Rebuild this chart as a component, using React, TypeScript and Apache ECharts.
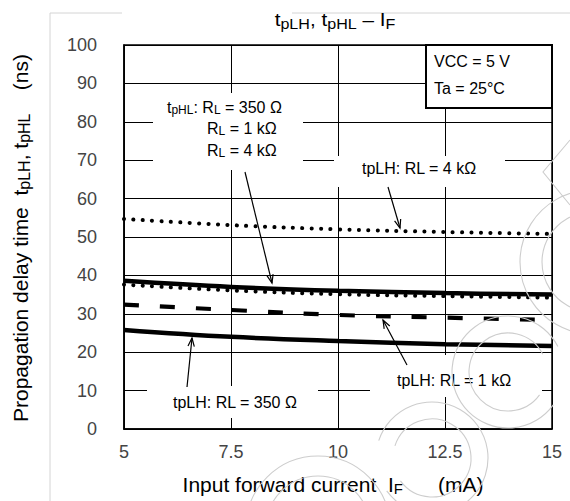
import React, { useEffect, useRef } from 'react';
import * as echarts from 'echarts';

// ---- data ----
const xValues = [5, 7.5, 10, 12.5, 15];
const xTickLabels = ['5', '7.5', '10', '12.5', '15'];
const tpLH_4k = [54.7, 53.1, 52.0, 51.3, 50.8];
const tpHL_solid = [38.6, 37.0, 36.0, 35.4, 35.0];
const tpHL_dotted = [37.6, 36.1, 35.1, 34.6, 34.2];
const tpLH_1k = [32.4, 31.0, 29.7, 29.0, 28.4];
const tpLH_350 = [25.8, 24.0, 22.9, 22.1, 21.6];

const FONT = 'Arial, "Liberation Sans", Helvetica, sans-serif';

function pairs(ys: number[]) {
  return xValues.map((x, i) => [x, ys[i]]);
}

function arrow(x1: number, y1: number, x2: number, y2: number) {
  const ang = Math.atan2(y2 - y1, x2 - x1);
  const L = 9;
  const a = 0.36;
  const w1 = [x2 - L * Math.cos(ang - a), y2 - L * Math.sin(ang - a)];
  const w2 = [x2 - L * Math.cos(ang + a), y2 - L * Math.sin(ang + a)];
  return [
    { type: 'line', z: 6, silent: true, shape: { x1, y1, x2, y2 }, style: { stroke: '#000', lineWidth: 1.2 } },
    { type: 'polyline', z: 6, silent: true, shape: { points: [w1, [x2, y2], w2] }, style: { stroke: '#000', lineWidth: 1.2, fill: null } },
  ];
}

function whiteBox(x: number, y: number, w: number, h: number) {
  return { type: 'rect', z: 1, silent: true, shape: { x, y, width: w, height: h }, style: { fill: '#fff', stroke: null } };
}

function label(text: string, x: number, y: number, size = 16, sub = 12, pad = 6) {
  return {
    type: 'text', z: 5, silent: true, x, y,
    style: {
      text, x: 0, y: 0, align: 'left', verticalAlign: 'middle',
      fontSize: size, fontFamily: FONT, fill: '#000',
      rich: { s: { fontSize: sub, fontFamily: FONT, fill: '#000', padding: [pad, 0, 0, 0] } },
    },
  };
}

function wm(cx: number, cy: number, r: number, s: number, e: number) {
  return {
    type: 'arc', z: 10, silent: true,
    shape: { cx, cy, r, startAngle: s * Math.PI, endAngle: e * Math.PI },
    style: { stroke: '#cdcdcd', lineWidth: 1.1, fill: null },
  };
}

export default function App() {
  const ref = useRef<HTMLDivElement>(null);
  useEffect(() => {
    if (!ref.current) return;
    const chart = echarts.init(ref.current, undefined, { renderer: 'svg' });
    const lineBase = { type: 'line', showSymbol: false, smooth: 0.4, silent: true, z: 3 };
    chart.setOption({
      animation: false,
      backgroundColor: '#fff',
      grid: { left: 124, right: 18, top: 45, bottom: 72, show: true, borderColor: '#000', borderWidth: 1.5, backgroundColor: 'transparent' },
      xAxis: {
        type: 'value', min: 5, max: 15, interval: 2.5,
        axisLine: { show: true, lineStyle: { color: '#000', width: 1.5 } },
        axisTick: { show: false },
        splitLine: { show: true, lineStyle: { color: '#000', width: 1 } },
        axisLabel: {
          color: '#444', fontSize: 18, fontFamily: FONT, margin: 14,
          formatter: (v: number) => xTickLabels[Math.round((v - 5) / 2.5)] ?? String(v),
        },
      },
      yAxis: {
        type: 'value', min: 0, max: 100, interval: 10,
        axisLine: { show: true, lineStyle: { color: '#000', width: 1.5 } },
        axisTick: { show: false },
        splitLine: { show: true, lineStyle: { color: '#000', width: 1 } },
        axisLabel: { color: '#444', fontSize: 18, fontFamily: FONT, margin: 27 },
      },
      series: [
        { ...lineBase, name: 'tpLH RL=4k', data: pairs(tpLH_4k), lineStyle: { color: '#000', width: 4, type: [0.1, 9.3], cap: 'round' } },
        { ...lineBase, name: 'tpHL', data: pairs(tpHL_solid), lineStyle: { color: '#000', width: 4.5, type: 'solid' } },
        { ...lineBase, name: 'tpHL dotted', data: pairs(tpHL_dotted), lineStyle: { color: '#000', width: 4, type: [0.1, 9.3], cap: 'round' } },
        { ...lineBase, name: 'tpLH RL=1k', data: pairs(tpLH_1k), lineStyle: { color: '#000', width: 4.2, type: [15, 21], cap: 'butt' } },
        { ...lineBase, name: 'tpLH RL=350', data: pairs(tpLH_350), lineStyle: { color: '#000', width: 4.5, type: 'solid' } },
      ],
      graphic: [
        // faint outer frame
        { type: 'line', z: 0, silent: true, shape: { x1: 50, y1: 13, x2: 122, y2: 13 }, style: { stroke: '#d4d4d4', lineWidth: 1 } },
        { type: 'line', z: 0, silent: true, shape: { x1: 292, y1: 13, x2: 570, y2: 13 }, style: { stroke: '#d4d4d4', lineWidth: 1 } },
        { type: 'line', z: 0, silent: true, shape: { x1: 50, y1: 13, x2: 50, y2: 501 }, style: { stroke: '#d4d4d4', lineWidth: 1 } },
        // white boxes behind labels
        whiteBox(153, 93, 150, 77),
        whiteBox(334, 156, 171, 31),
        whiteBox(370, 355, 172, 42),
        whiteBox(147, 386, 171, 32),
        // conditions box
        { type: 'rect', z: 4, silent: true, shape: { x: 426, y: 45, width: 126, height: 63 }, style: { fill: '#fff', stroke: '#000', lineWidth: 2 } },
        label('VCC = 5 V', 434, 61),
        label('Ta = 25°C', 434, 88),
        // title
        {
          type: 'text', z: 5, silent: true, x: 335, y: 20, scaleX: 1.15,
          style: {
            text: 't{s|pLH}, t{s|pHL} – I{s|F}', x: 0, y: 0, align: 'center', verticalAlign: 'middle',
            fontSize: 18, fontFamily: FONT, fill: '#000',
            rich: { s: { fontSize: 14, fontFamily: FONT, fill: '#000', padding: [8, 0, 0, 0] } },
          },
        },
        // axis names
        {
          type: 'text', z: 5, silent: true, x: 333, y: 484,
          style: {
            text: 'Input forward current  I{s|F}      (mA)', x: 0, y: 0, align: 'center', verticalAlign: 'middle',
            fontSize: 21, fontFamily: FONT, fill: '#000',
            rich: { s: { fontSize: 15, fontFamily: FONT, fill: '#000', padding: [9, 0, 0, 0] } },
          },
        },
        {
          type: 'text', z: 5, silent: true, x: 20, y: 238, rotation: Math.PI / 2,
          style: {
            text: 'Propagation delay time  t{s|pLH}, t{s|pHL}    (ns)', x: 0, y: 0, align: 'center', verticalAlign: 'middle',
            fontSize: 21, fontFamily: FONT, fill: '#000',
            rich: { s: { fontSize: 16, fontFamily: FONT, fill: '#000', padding: [9, 0, 0, 0] } },
          },
        },
        // annotations
        label('t{s|pHL}: R{s|L} = 350 Ω', 167, 107),
        label('R{s|L} = 1 kΩ', 207, 128),
        label('R{s|L} = 4 kΩ', 207, 150),
        label('tpLH: RL = 4 kΩ', 362, 168),
        label('tpLH: RL = 1 kΩ', 397, 380),
        label('tpLH: RL = 350 Ω', 173, 402),
        ...arrow(245, 172, 272, 283),
        ...arrow(388, 187, 400, 228),
        ...arrow(407, 365, 383, 320),
        ...arrow(187, 387, 192, 338),
        // faint watermark
        wm(592, 262, 72, 0, 2),
        wm(592, 262, 50, 0, 2),
        wm(508, 372, 56, 0.2, 1.85),
        wm(508, 372, 39, 0.2, 1.85),
        wm(432, 458, 56, 1.1, 2.8),
        wm(432, 458, 39, 1.1, 2.8),
        wm(318, 528, 72, 1.0, 2.0),
        wm(318, 528, 52, 1.0, 2.0),
        { type: 'polyline', z: 10, silent: true, shape: { points: [[570, 140], [543, 172], [570, 205]] }, style: { stroke: '#cdcdcd', lineWidth: 1.1, fill: null } },
      ],
    });
    return () => chart.dispose();
  }, []);
  return <div ref={ref} style={{ position: 'absolute', left: 0, top: 0, width: 570, height: 501 }} />;
}
